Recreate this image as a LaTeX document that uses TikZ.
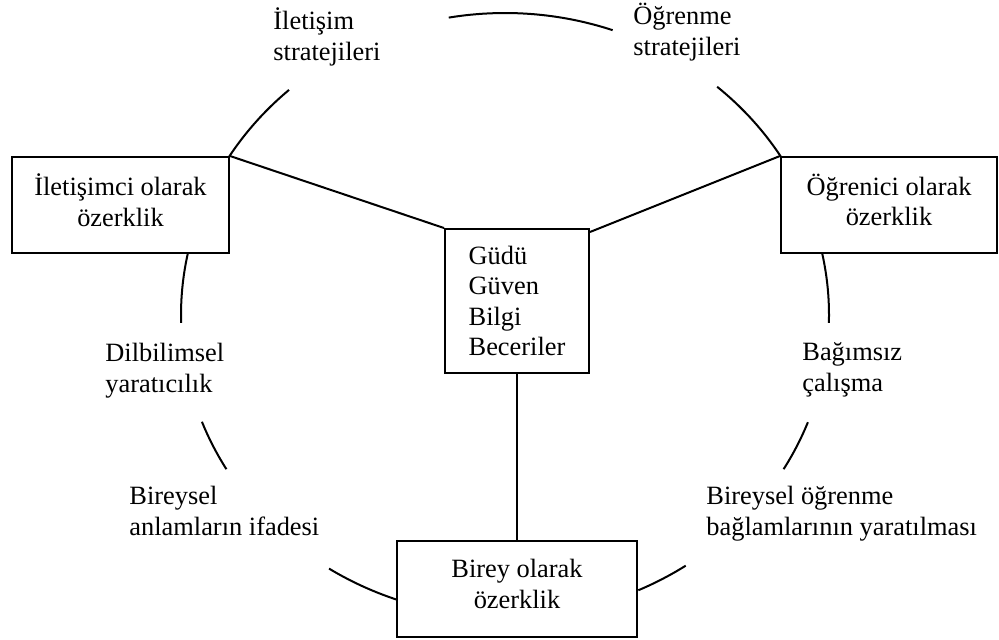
\documentclass[tikz,border=0pt]{standalone}
\usepackage{fontspec}
\setmainfont{Liberation Serif}
% one pixel of the layout grid = 0.5pt, y grows downwards
\newcommand\ringarc[2]{\draw[ring] plot[domain=#1:#2, samples=40, smooth] ({505+324*cos(\x)},{315+302*sin(\x)});}
\begin{document}
\begin{tikzpicture}[x=0.5pt, y=-0.5pt,
  txt/.style={font=\fontsize{13.2pt}{15.2pt}\selectfont},
  box/.style={txt, draw, line width=1pt, fill=white, inner sep=0pt, align=center},
  pair/.style={box, minimum height=48pt, text depth=5pt},
  lbl/.style={txt, anchor=base west, align=left, inner sep=0pt},
  ring/.style={line width=1pt},
  link/.style={line width=1pt}]
\useasboundingbox (0,0) rectangle (999,639);

% broken ellipse around the three kinds of autonomy
\ringarc{260}{289.4}
\ringarc{211.5}{228.2}
\ringarc{310.9}{328.5}
\ringarc{178.5}{191.9}
\ringarc{348.1}{361.5}
\ringarc{149.3}{159.3}
\ringarc{20.8}{30.7}
\ringarc{109.6}{122.9}
\ringarc{56.1}{65.7}

% boxes
\node[pair, minimum width=108.5pt] (comm) at (120.5,205) {İletişimci olarak\\özerklik};
\node[pair, minimum width=108pt] (learn) at (889,205) {Öğrenici olarak\\özerklik};
\node[box, minimum width=72pt, minimum height=72pt, align=left] (core) at (517,301) {Güdü\\Güven\\Bilgi\\Beceriler};
\node[pair, minimum width=120pt] (self) at (517,589) {Birey olarak\\özerklik};

% connectors
\draw[link] (comm.north east) -- (core.north west);
\draw[link] (learn.north west) -- ([yshift=-2pt]core.north east);
\draw[link] (core.south) -- (self.north);

% labels on the ring (anchored at the baseline of their last line)
\node[lbl] (l1) at (273,60) {İletişim\\stratejileri};
\node[lbl] (l2) at (633,55) {Öğrenme\\stratejileri};
\node[lbl] (l3) at (105,392) {Dilbilimsel\\yaratıcılık};
\node[lbl] (l4) at (129,535) {Bireysel\\anlamların ifadesi};
\node[lbl] (l5) at (802,391) {Bağımsız\\çalışma};
\node[lbl] (l6) at (706,535) {Bireysel öğrenme\\bağlamlarının yaratılması};
\end{tikzpicture}
\end{document}
